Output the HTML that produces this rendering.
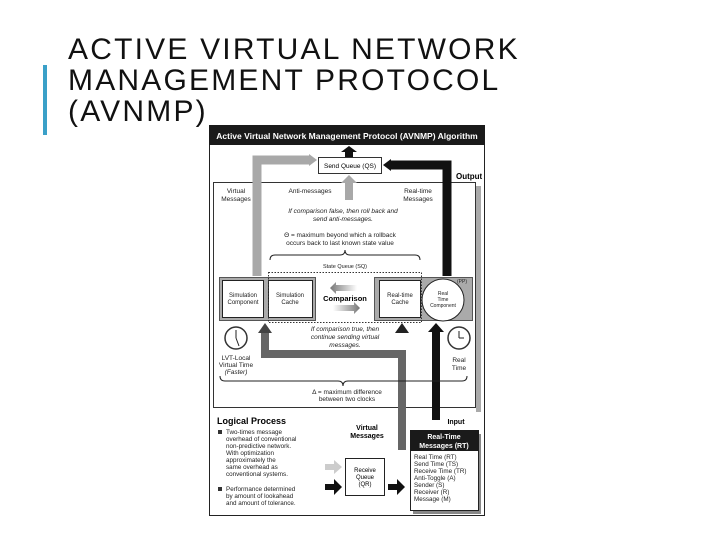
<!DOCTYPE html>
<html><head><meta charset="utf-8"><style>
body{margin:0;width:720px;height:540px;background:#fff;overflow:hidden;position:relative;font-family:"Liberation Sans",sans-serif}
.t{position:absolute;left:68px;top:34px;font-size:30px;line-height:31px;letter-spacing:2.2px;color:#111;white-space:nowrap}
.bar{position:absolute;left:43px;top:65px;width:4px;height:70px;background:#3aa0c8}
svg{position:absolute;left:0;top:0}
</style></head><body>
<div class="bar"></div>
<div class="t">ACTIVE VIRTUAL NETWORK<br>MANAGEMENT PROTOCOL<br>(AVNMP)</div>
<svg width="720" height="540" font-family="Liberation Sans, sans-serif">
<defs><linearGradient id="g1" x1="0" x2="1"><stop offset="0" stop-color="#fff"/><stop offset="1" stop-color="#777"/></linearGradient>
<linearGradient id="g2" x1="1" x2="0"><stop offset="0" stop-color="#fff"/><stop offset="1" stop-color="#777"/></linearGradient></defs>
<rect x="209.5" y="125.5" width="275" height="390" fill="#fff" stroke="#222"/>
<rect x="209" y="125" width="276" height="20" fill="#1a1a1a"/>
<text x="347" y="139" font-size="8.5" font-weight="bold" fill="#fff" text-anchor="middle">Active Virtual Network Management Protocol  (AVNMP) Algorithm</text>
<!-- inner region -->
<rect x="476" y="186" width="5" height="226" fill="#aaa"/>
<rect x="213.5" y="182.5" width="262" height="225" fill="#fff" stroke="#333"/>
<text x="456" y="179" font-size="8" font-weight="bold">Output</text>
<!-- top arrow -->
<polygon points="345,157 345,152 341,152 349,146 357,152 353,152 353,157" fill="#111"/>
<rect x="318.5" y="157.5" width="63" height="16" fill="#fff" stroke="#333"/>
<text x="350" y="168" font-size="6.5" text-anchor="middle">Send Queue (QS)</text>
<!-- left gray arrow -->
<path d="M257,276 V160 H310" fill="none" stroke="#a8a8a8" stroke-width="9"/>
<polygon points="309,154 317,160 309,166" fill="#a8a8a8"/>
<!-- right black arrow -->
<path d="M447,276 V165 H390" fill="none" stroke="#111" stroke-width="9"/>
<polygon points="391,159 383,165 391,171" fill="#111"/>
<!-- center gray up -->
<rect x="345" y="182" width="8" height="18" fill="#a8a8a8"/>
<polygon points="341,183 349,175 357,183" fill="#a8a8a8"/>
<g font-size="6.5" fill="#222">
<text x="236" y="193" text-anchor="middle">Virtual</text><text x="236" y="201" text-anchor="middle">Messages</text>
<text x="310" y="193" text-anchor="middle">Anti-messages</text>
<text x="418" y="193" text-anchor="middle">Real-time</text><text x="418" y="201" text-anchor="middle">Messages</text>
<text x="343" y="213" text-anchor="middle" font-style="italic">If comparison false, then roll back and</text>
<text x="343" y="221" text-anchor="middle" font-style="italic">send anti-messages.</text>
<text x="340" y="237" text-anchor="middle">Θ = maximum beyond which a rollback</text>
<text x="340" y="245" text-anchor="middle">occurs back to last known state value</text>
<text x="345" y="268" text-anchor="middle" font-size="5.5">State Queue (SQ)</text>
</g>
<path d="M270,260 q0,-5 5,-5 H340 q5,0 5,-5 q0,5 5,5 H415 q5,0 5,5" fill="none" stroke="#222"/>
<!-- boxes -->
<rect x="219.5" y="277.5" width="96" height="43" fill="#aaa" stroke="#555"/>
<rect x="222.5" y="280.5" width="41" height="37" fill="#fff" stroke="#222"/>
<rect x="268.5" y="280.5" width="44" height="37" fill="#fff" stroke="#222"/>
<rect x="374.5" y="277.5" width="98" height="43" fill="#aaa" stroke="#555"/>
<rect x="379.5" y="280.5" width="41" height="37" fill="#fff" stroke="#222"/>
<circle cx="443" cy="300" r="21" fill="#fff" stroke="#222"/>
<rect x="268.5" y="272.5" width="153" height="50" fill="none" stroke="#333" stroke-dasharray="1.5,1.5"/>
<g font-size="6" fill="#222" text-anchor="middle">
<text x="243" y="297">Simulation</text><text x="243" y="304">Component</text>
<text x="290" y="297">Simulation</text><text x="290" y="304">Cache</text>
<text x="400" y="297">Real-time</text><text x="400" y="304">Cache</text>
<text x="443" y="295" font-size="5">Real</text><text x="443" y="301" font-size="5">Time</text><text x="443" y="307" font-size="5">Component</text>
<text x="462" y="283" font-size="5">(PP)</text>
</g>
<text x="345" y="301" font-size="7.5" font-weight="bold" text-anchor="middle">Comparison</text>
<polygon points="357,285 336,285 336,282 330,288 336,294 336,291 357,291" fill="url(#g2)"/>
<polygon points="333,305 354,305 354,302 360,308 354,314 354,311 333,311" fill="url(#g1)"/>
<!-- loop arrow -->
<path d="M265,332 V354 H402 V450" fill="none" stroke="#666" stroke-width="8"/>
<polygon points="258,333 265,323 272,333" fill="#444"/>
<polygon points="395,333 402,323 409,333" fill="#222"/>
<!-- black input -->
<rect x="432" y="330" width="8" height="90" fill="#111"/>
<polygon points="428,332 436,323 444,332" fill="#111"/>
<g font-size="6.5" fill="#222" text-anchor="middle">
<text x="345" y="331" font-style="italic">If comparison true, then</text>
<text x="345" y="339" font-style="italic">continue sending virtual</text>
<text x="345" y="347" font-style="italic">messages.</text>
<text x="236" y="360">LVT-Local</text><text x="236" y="367">Virtual Time</text><text x="236" y="374" font-style="italic">(Faster)</text>
<text x="459" y="362">Real</text><text x="459" y="370">Time</text>
<text x="347" y="394">Δ = maximum difference</text><text x="347" y="401">between two clocks</text>
</g>
<circle cx="236" cy="338" r="11" fill="#fff" stroke="#333" stroke-width="1.5"/>
<path d="M236,338 V330 M236,338 l3,8" stroke="#222"/>
<circle cx="459" cy="338" r="11" fill="#fff" stroke="#333" stroke-width="1.5"/>
<path d="M459,338 V331 M459,338 h5" stroke="#222"/>
<path d="M220,376 q0,5 5,5 H338 q5,0 5,5 q0,-5 5,-5 H462 q5,0 5,-5" fill="none" stroke="#222"/>
<!-- bottom -->
<text x="217" y="424" font-size="9" font-weight="bold">Logical Process</text>
<text x="456" y="424" font-size="7" font-weight="bold" text-anchor="middle">Input</text>
<text x="367" y="430" font-size="7" font-weight="bold" text-anchor="middle">Virtual</text>
<text x="367" y="438" font-size="7" font-weight="bold" text-anchor="middle">Messages</text>
<rect x="218" y="430" width="4" height="4" fill="#333"/><rect x="218" y="487" width="4" height="4" fill="#333"/>
<g font-size="6.3" fill="#222">
<text x="226" y="434">Two-times message</text><text x="226" y="441">overhead of conventional</text>
<text x="226" y="448">non-predictive network.</text><text x="226" y="455">With optimization</text>
<text x="226" y="462">approximately the</text><text x="226" y="469">same overhead as</text>
<text x="226" y="476">conventional systems.</text>
<text x="226" y="491">Performance determined</text><text x="226" y="498">by amount of lookahead</text>
<text x="226" y="505">and amount of tolerance.</text>
</g>
<rect x="345.5" y="458.5" width="39" height="37" fill="#fff" stroke="#222"/>
<g font-size="6" text-anchor="middle"><text x="365" y="472">Receive</text><text x="365" y="479">Queue</text><text x="365" y="486">(QR)</text></g>
<polygon points="325,464 334,464 334,460 342,467 334,474 334,470 325,470" fill="#ccc"/>
<polygon points="325,484 334,484 334,479 342,487 334,495 334,490 325,490" fill="#111"/>
<polygon points="388,484 397,484 397,479 405,487 397,495 397,490 388,490" fill="#111"/>
<rect x="413" y="434" width="68" height="80" fill="#888"/>
<rect x="410.5" y="430.5" width="68" height="80" fill="#fff" stroke="#222"/>
<rect x="410" y="430" width="69" height="21" fill="#1a1a1a"/>
<g font-size="7" font-weight="bold" fill="#fff" text-anchor="middle"><text x="444" y="439">Real-Time</text><text x="444" y="448">Messages (RT)</text></g>
<g font-size="6.3" fill="#222">
<text x="414" y="459">Real Time (RT)</text><text x="414" y="466">Send Time (TS)</text>
<text x="414" y="473">Receive Time (TR)</text><text x="414" y="480">Anti-Toggle (A)</text>
<text x="414" y="487">Sender (S)</text><text x="414" y="494">Receiver (R)</text>
<text x="414" y="501">Message (M)</text>
</g>
</svg>
</body></html>
